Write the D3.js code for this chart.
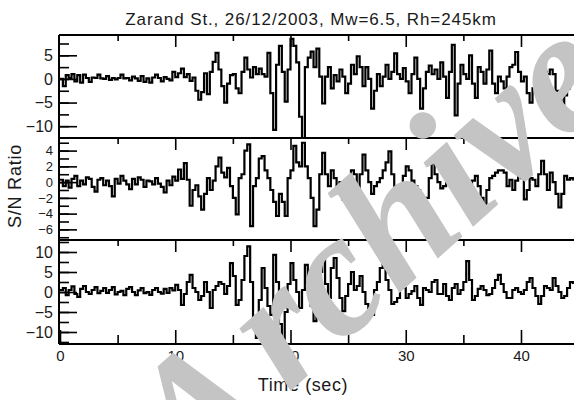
<!DOCTYPE html>
<html>
<head>
<meta charset="utf-8">
<script src="https://cdn.jsdelivr.net/npm/d3@7"></script>
<style>
body { margin: 0; background: #fff; }
svg { display: block; }
text { font-family: "Liberation Sans", Arial, sans-serif; fill: #1a1a1a; }
</style>
</head>
<body>
<svg width="574" height="400"></svg>
<script>
// S/N ratio traces, one sample every 0.25 s
var sampleStep = 0.25;

var traceTop = [0, -1.5, 0.8, 0.2, 1.0, -0.5, 0.8, -0.8, 0.9, 0.2, -0.6, 0.3, 0.2, 0.9, 0.1, 0.0,
  0.6, -0.2, 0.2, -0.1, 0.2, 0.9, 0.1, 0.2, -0.3, 0.5, 0.1, -0.4, 0.6, -0.6, 0.1, -0.8,
  0.3, 0.9, 0.2, -0.5, 0.4, 0.0, -0.3, 1.5, 0.4, 1.2, 2.2, 0.4, 1.0, -0.4, 0.3, -2.5,
  -4.4, -2.8, 1.2, -3.2, 1.5, 3.6, 5.5, 2.0, -1.5, -5.0, -1.0, 0.8, 1.0, -2.0, -3.0, 1.5,
  4.5, 2.0, 0.3, 2.5, 1.0, 2.2, 1.0, 0.5, 5.5, -3, -10.8, 3, 7.0, 1.5, -4.8, 2,
  8.5, 7.0, 3.5, -8, -12.5, 2.5, 4.5, 5.8, 2.5, 6.4, 0.5, -5.2, 0.5, 2.5, -2, 0.8,
  -0.5, 2.0, 0.5, -3.0, -1.0, 3.0, 1.0, 4.8, 2.5, -1.5, 2.5, 0.0, -6.3, -2.5, 1.0, -1.5,
  0.5, 3.0, 0.0, 1.5, 5.4, 1.0, 0.0, 2.3, -0.5, -3.0, 1.0, 4.5, 0.0, -6.3, -2.0, 1.5,
  2.8, 1.0, 2.0, 0.0, 3.5, 0.5, -4.0, 1.5, 7.2, -7.7, -1.0, 3.0, 1.0, 0.0, 5.0, -1.0,
  -4.0, 2.5, 1.5, -1.0, 2.0, 6.0, -1.0, -3.0, 0.5, -0.5, -2.0, 0.5, 2.5, 3.0, 5.7, 1.5,
  -0.5, 0.5, -3.0, -5.0, -2.0, -2.5, 1.5, 4.0, 1.5, 1.0, 2.0, 1.0, -2.5, -4.5, -6.0, -3.5,
  -2.0, 1.0, 2.5];

var traceMid = [0.3, -0.5, 0.2, -0.7, 0.4, 0.8, -0.5, 0.2, -0.3, 0.6, 0.4, -0.6, -1.2, 0.3, 0.5, -0.4,
  0.2, -0.5, -1.8, 0.4, -0.2, 0.8, 0.2, -0.3, -0.9, 0.4, -0.3, 0.6, 0.3, -0.6, 0.2, 0.1,
  -0.3, 0.5, -0.2, -0.6, -1.3, 0.2, -0.4, 0.7, 0.2, 1.6, 0.4, 2.4, 0.3, -3.0, -1.0, -0.4,
  -1.8, -3.5, -1.5, 0.5, -1.0, 0.2, 2.0, 3.1, 1.2, 0.6, 1.8, -0.5, -2.0, -4.1, 0.5, 1.0,
  4.0, 4.8, -5.6, -0.5, 0.5, 3.0, 3.3, 1.5, 0.5, -1.0, -2.5, -4.3, -1.5, -2.5, -4.3, 0.5,
  1.5, 4.6, 2.5, 2.0, 5.0, 2.0, 0.5, -2.0, -5.6, -3.5, 1.0, 3.7, 1.0, -0.5, 1.5, 0.5,
  -1.0, 0.0, -2.2, -1.0, 0.5, 1.5, 1.0, -0.8, 1.0, 3.5, 1.5, 0.0, -1.5, -0.5, 0.0, 0.5,
  1.5, 2.5, 3.9, 1.0, -0.5, -1.8, -1.0, 0.8, 2.0, 1.5, 0.2, -0.5, -1.0, -2.5, -4.3, -2.0,
  0.5, 2.4, 1.0, 0.0, -0.8, -0.5, 0.8, 1.5, 2.4, 0.5, -1.3, -0.5, 0.3, 0.0, -1.0, 0.2,
  0.8, -0.5, -2.0, -3.2, -1.0, 0.5, 0.8, 1.2, 1.5, 1.5, 1.2, -0.5, 0.3, -1.0, 0.2, 1.5,
  0.5, -2.2, -1.0, 0.5, 0.3, -0.5, 1.0, 2.7, 1.0, -1.0, 1.2, 0.0, -1.5, -3.2, -1.5, 0.8,
  0.3, 0.5, 0.2];

var traceBot = [0.5, 1.0, -0.8, 0.5, 1.4, -0.5, -1.2, 0.8, 1.5, 0.0, -0.5, 0.5, 1.2, -0.3, 0.3, 1.0,
  -0.2, 0.5, 1.2, -0.6, 0.0, 0.3, -0.8, 0.8, 1.2, 0.0, -0.8, 0.4, 1.0, -0.3, 0.0, -0.7,
  0.5, 1.0, 0.0, -0.4, 0.8, -0.2, 1.0, 0.4, 1.8, 0.5, -3.2, -0.5, 2.5, 4.3, 1.0, 0.0,
  -2.0, -1.0, 2.5, 0.0, -4.0, 0.5, 1.5, 2.5, 2.0, -0.5, 1.5, 7.2, 4.0, -3.2, -2.0, 3.0,
  9.0, 11.4, 2.5, -8.0, -11.5, -2.0, 6.0, 1.0, -3.5, -5.7, 9.3, 2.5, -8.0, -12.0, -5.0, 2.0,
  7.2, 3.0, 0.0, -4.0, 0.5, 6.8, 2.0, -3.5, -7.3, 1.5, 5.0, 8.0, 2.0, -1.5, 6.0, 8.5,
  3.5, -1.5, -4.8, -1.0, 2.0, 5.0, 0.5, 1.5, 4.0, 0.0, -3.0, -5.0, -5.7, 0.5, 2.5, 6.0,
  8.5, 3.0, 0.5, -3.0, -2.5, -1.5, 2.5, 1.0, -1.5, -0.5, 0.2, 1.5, -1.5, -3.2, 1.0, 0.5,
  0.0, 2.5, 3.0, -0.5, -0.5, 2.0, -1.0, -2.0, 1.0, 2.0, -0.5, 0.5, 2.5, 7.7, 3.0, -2.0,
  -1.0, 0.8, 1.5, 0.5, -0.8, -0.5, 1.0, 3.0, 4.3, 2.0, 0.0, -1.5, -1.5, 0.5, 1.0, 0.0,
  -0.5, 0.5, 2.5, 3.5, 1.0, -1.0, -3.0, -1.0, 1.5, 1.0, 0.5, 3.5, 1.5, 0.0, -1.5, -1.0,
  1.0, 2.5, 2.0];

var timeTicks = [0, 10, 20, 30, 40];
var topLabels = [5, 0, -5, -10];
var midLabels = [4, 2, 0, -2, -4, -6];
var botLabels = [10, 5, 0, -5, -10];

var titleText = "Zarand St., 26/12/2003, Mw=6.5, Rh=245km";
var yTitle = "S/N Ratio";
var xTitle = "Time (sec)";
var watermark = ["A", "rchive"];

var svg = d3.select("svg"),
    width = 574,
    height = 400,
    left = 59;

var x = d3.scaleLinear().domain([0, 44.6]).range([60, width]);

var panels = [
  { data: traceTop, top: 35, bottom: 138, domain: [-12.5, 9.3], labels: topLabels, minor: d3.range(-10, 9, 2.5), size: 16 },
  { data: traceMid, top: 138, bottom: 240, domain: [-7.35, 5.6], labels: midLabels, minor: d3.range(-7, 6, 1), size: 13 },
  { data: traceBot, top: 240, bottom: 344, domain: [-13, 13], labels: botLabels, minor: d3.range(-12.5, 13, 2.5), size: 16 }
];

svg.append("rect").attr("width", width).attr("height", height).attr("fill", "#fff");

panels.forEach(function(p, i) {
  var y = d3.scaleLinear().domain(p.domain).range([p.bottom, p.top]);

  svg.append("clipPath").attr("id", "clip" + i)
    .append("rect")
      .attr("x", left).attr("y", p.top)
      .attr("width", width - left).attr("height", p.bottom - p.top);

  var line = d3.line()
    .curve(d3.curveStepAfter)
    .x(function(d, j) { return x(j * sampleStep); })
    .y(function(d) { return y(d); });

  svg.append("path")
    .datum(p.data)
    .attr("clip-path", "url(#clip" + i + ")")
    .attr("fill", "none")
    .attr("stroke", "#000")
    .attr("stroke-width", 2.2)
    .attr("d", line);

  // short inner ticks on the left
  var minorAxis = svg.append("g")
    .attr("transform", "translate(" + left + ",0)")
    .call(d3.axisLeft(y).tickValues(p.minor).tickSize(-10).tickFormat(""));
  minorAxis.select(".domain").remove();

  var majorAxis = svg.append("g")
    .attr("transform", "translate(" + left + ",0)")
    .call(d3.axisLeft(y).tickValues(p.labels).tickSize(-18).tickPadding(6));
  majorAxis.select(".domain").remove();
  majorAxis.selectAll("text").style("font-size", p.size + "px").attr("fill", "#1a1a1a");

  // time ticks hanging from the top edge of each panel
  var topAxis = svg.append("g")
    .attr("transform", "translate(0," + p.top + ")")
    .call(d3.axisTop(x).tickValues(d3.range(5, 45, 5)).tickSize(-6).tickFormat(""));
  topAxis.select(".domain").remove();
  topAxis.selectAll(".tick line")
    .filter(function(d) { return d % 10 === 0; })
    .attr("y2", 12);

  svg.selectAll("line.frame" + i)
    .data([p.top, p.bottom])
    .enter().append("line")
      .attr("x1", left).attr("x2", width)
      .attr("y1", function(d) { return d; })
      .attr("y2", function(d) { return d; })
      .attr("stroke", "#000")
      .attr("stroke-width", 2);
});

svg.selectAll(".tick line").attr("stroke", "#000").attr("stroke-width", 1.6);

// bottom time axis
var lastPanel = panels[2];
var bottomMinor = svg.append("g")
  .attr("transform", "translate(0," + lastPanel.bottom + ")")
  .call(d3.axisBottom(x).tickValues([5, 15, 25, 35]).tickSize(-9).tickFormat(""));
bottomMinor.select(".domain").remove();

var bottomAxis = svg.append("g")
  .attr("transform", "translate(0," + lastPanel.bottom + ")")
  .call(d3.axisBottom(x).tickValues(timeTicks).tickSize(-14).tickPadding(6));
bottomAxis.select(".domain").remove();
bottomAxis.selectAll("text").style("font-size", "15px").attr("fill", "#1a1a1a");
bottomMinor.selectAll("line").attr("stroke", "#000").attr("stroke-width", 1.6);
bottomAxis.selectAll("line").attr("stroke", "#000").attr("stroke-width", 1.6);

svg.append("line")
  .attr("x1", left).attr("x2", left)
  .attr("y1", panels[0].top).attr("y2", lastPanel.bottom)
  .attr("stroke", "#000")
  .attr("stroke-width", 2);

svg.append("text")
  .attr("x", 311).attr("y", 25)
  .attr("text-anchor", "middle")
  .style("font-size", "17px")
  .style("letter-spacing", "0.9px")
  .text(titleText);

svg.append("text")
  .attr("transform", "translate(21,186) rotate(-90)")
  .attr("text-anchor", "middle")
  .style("font-size", "18px")
  .style("letter-spacing", "0.8px")
  .text(yTitle);

svg.append("text")
  .attr("x", 303).attr("y", 391)
  .attr("text-anchor", "middle")
  .style("font-size", "18px")
  .style("letter-spacing", "0.6px")
  .text(xTitle);

// grey watermark lying over the plot
var mark = svg.append("text")
  .attr("transform", "translate(192,492) rotate(-42)")
  .style("font-family", "'Liberation Serif', serif")
  .style("font-style", "italic")
  .style("font-weight", "bold")
  .style("font-size", "176px")
  .style("fill", "#c4c4c4");
mark.append("tspan").text(watermark[0]);
mark.append("tspan").attr("dx", 20).attr("dy", -9).text(watermark[1]);
</script>
</body>
</html>
